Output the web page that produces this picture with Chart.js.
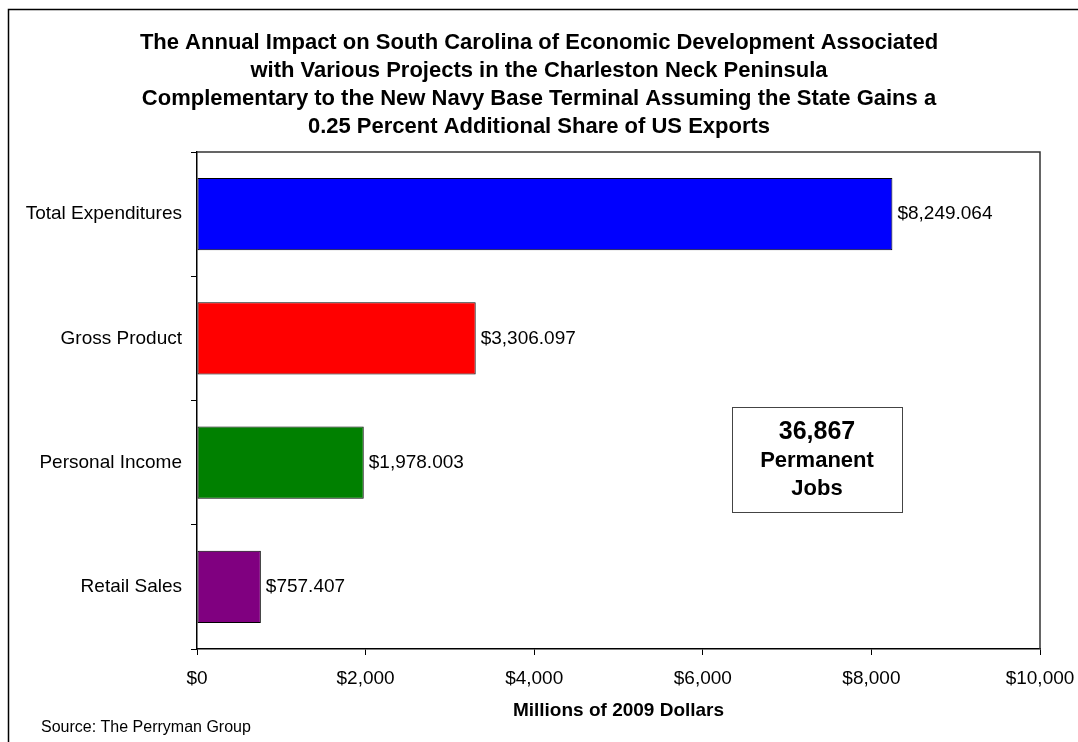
<!DOCTYPE html>
<html lang="en">

<head>
    <meta charset="UTF-8">
    <title>Annual Impact on South Carolina</title>
    <script src="https://cdn.jsdelivr.net/npm/chart.js"></script>
    <style>
        body {
            margin: 0;
            background: #ffffff;
        }
    </style>
</head>

<body>
    <canvas id="myChart" width="1078" height="742"></canvas>

    <script>
        // Chart data
        const categories = ['Total Expenditures', 'Gross Product', 'Personal Income', 'Retail Sales'];
        const values = [8249.064, 3306.097, 1978.003, 757.407];
        const barColors = ['#0000ff', '#ff0000', '#008000', '#800080'];
        const xTicks = [0, 2000, 4000, 6000, 8000, 10000];
        const jobsLines = ['36,867', 'Permanent', 'Jobs'];

        const titleLines = [
            'The Annual Impact on South Carolina of Economic Development Associated',
            'with Various Projects in the Charleston Neck Peninsula',
            'Complementary to the New Navy Base Terminal Assuming the State Gains a',
            '0.25 Percent Additional Share of US Exports'
        ];

        const FONT = 'Arial, "Liberation Sans", sans-serif';

        function money(v, digits) {
            return '$' + v.toLocaleString('en-US', { minimumFractionDigits: digits, maximumFractionDigits: digits });
        }

        // frame, title, plot border, value labels, jobs box and source note
        const extras = {
            id: 'extras',
            beforeDraw(chart) {
                const ctx = chart.ctx;
                ctx.save();
                ctx.fillStyle = '#ffffff';
                ctx.fillRect(0, 0, chart.width, chart.height);
                ctx.strokeStyle = '#000000';
                ctx.lineWidth = 1.5;
                ctx.strokeRect(8.5, 9.5, 1200, 1200);

                // title, centred on the whole picture
                ctx.fillStyle = '#000000';
                ctx.font = 'bold 22px ' + FONT;
                ctx.textAlign = 'center';
                ctx.textBaseline = 'middle';
                titleLines.forEach((line, i) => {
                    ctx.fillText(line, 539, 43 + i * 28);
                });
                ctx.restore();
            },
            afterDraw(chart) {
                const ctx = chart.ctx;
                const a = chart.chartArea;
                ctx.save();

                // top and right plot border
                ctx.strokeStyle = '#333333';
                ctx.lineWidth = 1.5;
                ctx.beginPath();
                ctx.moveTo(a.left, a.top);
                ctx.lineTo(a.right, a.top);
                ctx.lineTo(a.right, a.bottom);
                ctx.stroke();

                // value labels
                ctx.fillStyle = '#000000';
                ctx.font = '19px ' + FONT;
                ctx.textAlign = 'left';
                ctx.textBaseline = 'middle';
                chart.getDatasetMeta(0).data.forEach((bar, i) => {
                    ctx.fillText(money(values[i], 3), bar.x + 5, bar.y);
                });

                // jobs box
                ctx.strokeStyle = '#444444';
                ctx.lineWidth = 1;
                ctx.strokeRect(732.5, 407.5, 170, 105);
                ctx.textAlign = 'center';
                ctx.font = 'bold 25px ' + FONT;
                ctx.fillText(jobsLines[0], 817, 432);
                ctx.font = 'bold 22px ' + FONT;
                ctx.fillText(jobsLines[1], 817, 461);
                ctx.fillText(jobsLines[2], 817, 489);

                // source
                ctx.textAlign = 'left';
                ctx.font = '16px ' + FONT;
                ctx.fillText('Source: The Perryman Group', 41, 728);
                ctx.restore();
            }
        };

        const data = {
            labels: categories,
            datasets: [{
                data: values,
                backgroundColor: barColors,
                borderColor: '#000000',
                borderWidth: 1,
                borderSkipped: false,
                barPercentage: 0.58,
                categoryPercentage: 1.0
            }]
        };

        const config = {
            type: 'bar',
            data: data,
            options: {
                indexAxis: 'y',
                responsive: false,
                animation: false,
                layout: {
                    padding: { left: 0, right: 38, top: 152, bottom: 0 }
                },
                plugins: {
                    legend: { display: false },
                    tooltip: { enabled: false },
                    title: { display: false }
                },
                scales: {
                    x: {
                        min: 0,
                        max: 10000,
                        afterBuildTicks(scale) {
                            scale.ticks = xTicks.map(v => ({ value: v }));
                        },
                        afterFit(scale) {
                            scale.height = 93;
                            scale.paddingLeft = 0;
                            scale.paddingRight = 0;
                        },
                        ticks: {
                            color: '#000000',
                            font: { family: FONT, size: 19 },
                            padding: 12,
                            maxRotation: 0,
                            callback: v => money(v, 0)
                        },
                        grid: {
                            drawOnChartArea: false,
                            tickLength: 6,
                            color: '#000000'
                        },
                        border: { color: '#000000', width: 1.5 },
                        title: {
                            display: true,
                            text: 'Millions of 2009 Dollars',
                            color: '#000000',
                            font: { family: FONT, size: 19, weight: 'bold' },
                            padding: { top: 0, bottom: 20 }
                        }
                    },
                    y: {
                        afterFit(scale) {
                            scale.width = 197;
                            scale.paddingTop = 0;
                            scale.paddingBottom = 0;
                        },
                        ticks: {
                            color: '#000000',
                            font: { family: FONT, size: 19 },
                            padding: 9
                        },
                        grid: {
                            drawOnChartArea: false,
                            tickLength: 6,
                            color: '#000000'
                        },
                        border: { color: '#000000', width: 1.5 }
                    }
                }
            },
            plugins: [extras]
        };

        const myChart = new Chart(document.getElementById('myChart'), config);
    </script>
</body>

</html>
